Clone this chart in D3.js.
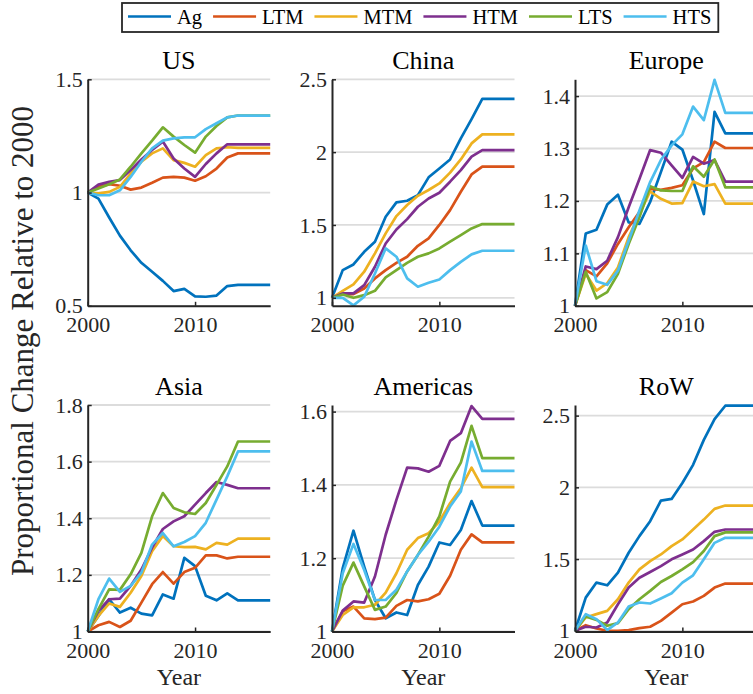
<!DOCTYPE html>
<html>
<head>
<meta charset="utf-8">
<script src="https://cdn.jsdelivr.net/npm/d3@7"></script>
<style>
  html, body { margin: 0; padding: 0; background: #fff; }
  svg { display: block; }
  svg text { font-family: "Liberation Serif", "Times New Roman", serif; }
</style>
</head>
<body>
<svg id="chart" width="753" height="694"></svg>
<script>
// ---- data -------------------------------------------------------------
const years = [2000, 2001, 2002, 2003, 2004, 2005, 2006, 2007, 2008,
               2009, 2010, 2011, 2012, 2013, 2014, 2015, 2016, 2017];
const seriesNames = ["Ag", "LTM", "MTM", "HTM", "LTS", "HTS"];
const regionNames = ["US", "China", "Europe", "Asia", "Americas", "RoW"];
const xTicks = [2000, 2010];

// one row per series, in seriesNames order
const usValues = [
  [1, 0.973, 0.89, 0.81, 0.745, 0.69, 0.65, 0.61, 0.565, 0.575, 0.542, 0.54, 0.545, 0.587, 0.592, 0.592, 0.592, 0.592],
  [1, 1.025, 1.037, 1.03, 1.013, 1.022, 1.043, 1.066, 1.069, 1.066, 1.052, 1.072, 1.106, 1.155, 1.173, 1.173, 1.173, 1.173],
  [1, 0.996, 1.003, 1.025, 1.084, 1.136, 1.173, 1.195, 1.143, 1.131, 1.114, 1.165, 1.195, 1.2, 1.197, 1.197, 1.197, 1.197],
  [1, 1.035, 1.047, 1.055, 1.099, 1.146, 1.188, 1.225, 1.15, 1.106, 1.069, 1.126, 1.173, 1.213, 1.213, 1.213, 1.213, 1.213],
  [1, 1.018, 1.037, 1.058, 1.114, 1.173, 1.229, 1.288, 1.247, 1.21, 1.176, 1.247, 1.294, 1.332, 1.34, 1.34, 1.34, 1.34],
  [1, 0.988, 0.988, 1.01, 1.069, 1.136, 1.195, 1.229, 1.239, 1.244, 1.244, 1.28, 1.306, 1.332, 1.34, 1.34, 1.34, 1.34]
];
const chinaValues = [
  [1, 1.19, 1.229, 1.316, 1.385, 1.556, 1.655, 1.666, 1.705, 1.827, 1.888, 1.95, 2.095, 2.227, 2.365, 2.365, 2.365, 2.365],
  [1, 1.023, 1.025, 1.064, 1.133, 1.19, 1.24, 1.282, 1.357, 1.408, 1.5, 1.602, 1.728, 1.847, 1.9, 1.9, 1.9, 1.9],
  [1, 1.048, 1.092, 1.179, 1.305, 1.442, 1.561, 1.637, 1.7, 1.74, 1.785, 1.859, 1.95, 2.06, 2.122, 2.122, 2.122, 2.122],
  [1, 1.03, 1.03, 1.087, 1.213, 1.373, 1.469, 1.54, 1.625, 1.682, 1.721, 1.797, 1.877, 1.969, 2.014, 2.014, 2.014, 2.014],
  [1, 1.023, 1.0, 1.018, 1.048, 1.14, 1.19, 1.24, 1.282, 1.305, 1.339, 1.385, 1.43, 1.476, 1.506, 1.506, 1.506, 1.506],
  [1, 1.0, 0.948, 1.007, 1.167, 1.339, 1.282, 1.133, 1.076, 1.103, 1.126, 1.19, 1.247, 1.298, 1.323, 1.323, 1.323, 1.323]
];
const europeValues = [
  [1, 1.138, 1.145, 1.193, 1.212, 1.159, 1.156, 1.198, 1.255, 1.313, 1.298, 1.239, 1.175, 1.37, 1.329, 1.329, 1.329, 1.329],
  [1, 1.068, 1.056, 1.081, 1.118, 1.15, 1.179, 1.223, 1.221, 1.225, 1.23, 1.262, 1.274, 1.313, 1.301, 1.301, 1.301, 1.301],
  [1, 1.061, 1.029, 1.043, 1.073, 1.131, 1.175, 1.218, 1.204, 1.195, 1.196, 1.237, 1.228, 1.232, 1.195, 1.195, 1.195, 1.195],
  [1, 1.075, 1.07, 1.086, 1.131, 1.188, 1.242, 1.297, 1.292, 1.268, 1.244, 1.284, 1.271, 1.278, 1.237, 1.237, 1.237, 1.237],
  [1, 1.065, 1.014, 1.026, 1.061, 1.118, 1.169, 1.228, 1.22, 1.219, 1.219, 1.266, 1.246, 1.279, 1.226, 1.226, 1.226, 1.226],
  [1, 1.115, 1.047, 1.04, 1.067, 1.124, 1.182, 1.236, 1.278, 1.306, 1.327, 1.38, 1.354, 1.431, 1.368, 1.368, 1.368, 1.368]
];
const asiaValues = [
  [1, 1.055, 1.114, 1.067, 1.084, 1.063, 1.057, 1.131, 1.116, 1.26, 1.231, 1.126, 1.11, 1.135, 1.11, 1.11, 1.11, 1.11],
  [1, 1.022, 1.034, 1.016, 1.038, 1.102, 1.167, 1.21, 1.169, 1.21, 1.225, 1.269, 1.269, 1.258, 1.264, 1.264, 1.264, 1.264],
  [1, 1.055, 1.099, 1.087, 1.137, 1.196, 1.284, 1.337, 1.301, 1.298, 1.299, 1.29, 1.313, 1.307, 1.328, 1.328, 1.328, 1.328],
  [1, 1.073, 1.114, 1.116, 1.161, 1.219, 1.296, 1.362, 1.389, 1.407, 1.448, 1.489, 1.528, 1.518, 1.506, 1.506, 1.506, 1.506],
  [1, 1.079, 1.149, 1.147, 1.202, 1.278, 1.407, 1.489, 1.436, 1.421, 1.415, 1.454, 1.518, 1.583, 1.671, 1.671, 1.671, 1.671],
  [1, 1.114, 1.187, 1.14, 1.161, 1.208, 1.307, 1.348, 1.301, 1.316, 1.337, 1.384, 1.466, 1.548, 1.636, 1.636, 1.636, 1.636]
];
const americasValues = [
  [1, 1.173, 1.275, 1.177, 1.086, 1.036, 1.052, 1.045, 1.127, 1.177, 1.243, 1.236, 1.277, 1.356, 1.289, 1.289, 1.289, 1.289],
  [1, 1.055, 1.068, 1.036, 1.034, 1.038, 1.07, 1.086, 1.082, 1.088, 1.103, 1.152, 1.223, 1.265, 1.243, 1.243, 1.243, 1.243],
  [1, 1.045, 1.066, 1.066, 1.073, 1.106, 1.159, 1.223, 1.255, 1.268, 1.3, 1.35, 1.391, 1.447, 1.394, 1.394, 1.394, 1.394],
  [1, 1.057, 1.082, 1.079, 1.15, 1.264, 1.359, 1.447, 1.445, 1.436, 1.452, 1.52, 1.541, 1.615, 1.58, 1.58, 1.58, 1.58],
  [1, 1.125, 1.188, 1.123, 1.059, 1.068, 1.105, 1.164, 1.209, 1.259, 1.314, 1.409, 1.461, 1.561, 1.473, 1.473, 1.473, 1.473],
  [1, 1.159, 1.239, 1.168, 1.086, 1.086, 1.114, 1.164, 1.209, 1.245, 1.286, 1.341, 1.382, 1.518, 1.438, 1.438, 1.438, 1.438]
];
const rowValues = [
  [1, 1.231, 1.336, 1.317, 1.405, 1.544, 1.66, 1.764, 1.907, 1.919, 2.03, 2.157, 2.331, 2.475, 2.569, 2.569, 2.569, 2.569],
  [1, 1.039, 1.016, 1.0, 1.0, 1.005, 1.019, 1.028, 1.069, 1.127, 1.185, 1.204, 1.243, 1.301, 1.329, 1.329, 1.329, 1.329],
  [1, 1.093, 1.116, 1.139, 1.22, 1.336, 1.428, 1.486, 1.532, 1.59, 1.637, 1.706, 1.775, 1.85, 1.873, 1.873, 1.873, 1.873],
  [1, 1.028, 1.023, 1.058, 1.185, 1.301, 1.37, 1.41, 1.451, 1.498, 1.532, 1.567, 1.625, 1.69, 1.706, 1.706, 1.706, 1.706],
  [1, 1.1, 1.076, 1.035, 1.053, 1.15, 1.22, 1.278, 1.34, 1.382, 1.428, 1.479, 1.556, 1.66, 1.686, 1.686, 1.686, 1.686],
  [1, 1.116, 1.081, 1.005, 1.058, 1.169, 1.197, 1.19, 1.225, 1.262, 1.336, 1.387, 1.498, 1.613, 1.648, 1.648, 1.648, 1.648]
];
const regionValues = [usValues, chinaValues, europeValues, asiaValues, americasValues, rowValues];

// y-axis limits and tick values per region
const yLimits = [[0.5, 1.5], [0.945, 2.5], [1, 1.432], [1, 1.8], [1, 1.618], [0.995, 2.574]];
const yTickValues = [
  [0.5, 1, 1.5],
  [1, 1.5, 2, 2.5],
  [1, 1.1, 1.2, 1.3, 1.4],
  [1, 1.2, 1.4, 1.6, 1.8],
  [1, 1.2, 1.4, 1.6],
  [1, 1.5, 2, 2.5]
];

// ---- styling / layout -------------------------------------------------
const colors = ["#0072BD", "#D95319", "#EDB120", "#7E2F8E", "#77AC30", "#4DBEEE"];
const axisColor = "#262626";
const gridColor = "#dcdcdc";
const serif = '"Liberation Serif", "Times New Roman", serif';
const colLeft = [87.7, 332, 575];
const rowTop = [79.3, 405];
const plotW = 182.5, plotH = 226.5;

const svg = d3.select("#chart");
const fmt = d3.format("~g");

regionNames.forEach((name, i) => {
  const col = i % 3, row = Math.floor(i / 3);
  const x0 = colLeft[col], y0 = rowTop[row];
  const x = d3.scaleLinear().domain([2000, 2017]).range([x0, x0 + plotW]);
  const y = d3.scaleLinear().domain(yLimits[i]).range([y0 + plotH, y0]);
  const g = svg.append("g");

  // horizontal grid
  g.append("g").selectAll("line").data(yTickValues[i]).join("line")
    .attr("x1", x0).attr("x2", x0 + plotW)
    .attr("y1", d => y(d)).attr("y2", d => y(d))
    .attr("stroke", gridColor).attr("stroke-width", 1.8);

  // series lines
  const line = d3.line().x((d, k) => x(years[k])).y(d => y(d));
  g.append("g").selectAll("path").data(regionValues[i]).join("path")
    .attr("d", line)
    .attr("fill", "none")
    .attr("stroke", (d, k) => colors[k])
    .attr("stroke-width", 2.7)
    .attr("stroke-linejoin", "round");

  // y axis (ticks inward)
  const yAxis = d3.axisLeft(y).tickValues(yTickValues[i]).tickFormat(fmt)
    .tickSizeInner(-4).tickSizeOuter(0).tickPadding(5);
  const ya = g.append("g").attr("transform", `translate(${x0},0)`).call(yAxis);
  ya.attr("font-family", null).attr("font-size", null);
  ya.select(".domain").attr("stroke", axisColor).attr("stroke-width", 2);
  ya.selectAll(".tick line").attr("stroke", axisColor).attr("stroke-width", 1.5);
  ya.selectAll(".tick text").attr("fill", axisColor)
    .style("font-family", serif).style("font-size", "22px");

  // x axis (ticks inward)
  const xAxis = d3.axisBottom(x).tickValues(xTicks).tickFormat(d3.format("d"))
    .tickSizeInner(-4).tickSizeOuter(0).tickPadding(11);
  const xa = g.append("g").attr("transform", `translate(0,${y0 + plotH})`).call(xAxis);
  xa.attr("font-family", null).attr("font-size", null);
  xa.select(".domain").attr("stroke", axisColor).attr("stroke-width", 2);
  xa.selectAll(".tick line").attr("stroke", axisColor).attr("stroke-width", 1.5);
  xa.selectAll(".tick text").attr("fill", axisColor)
    .style("font-family", serif).style("font-size", "22px");

  // panel title
  g.append("text").attr("x", x0 + plotW / 2).attr("y", y0 - 10)
    .attr("text-anchor", "middle").attr("fill", "#000")
    .style("font-family", serif).style("font-size", "26px")
    .text(name);

  // x label on the bottom row
  if (row === 1) {
    g.append("text").attr("x", x0 + plotW / 2).attr("y", y0 + plotH + 53)
      .attr("text-anchor", "middle").attr("fill", axisColor)
      .style("font-family", serif).style("font-size", "24px")
      .text("Year");
  }
});

// shared y label
svg.append("text")
  .attr("transform", "translate(33,341) rotate(-90)")
  .attr("text-anchor", "middle").attr("fill", axisColor)
  .style("font-family", serif).style("font-size", "31px")
  .text("Proportional Change Relative to 2000");

// legend
const legend = svg.append("g");
const legendBox = legend.append("rect")
  .attr("x", 122).attr("y", 3).attr("height", 29)
  .attr("fill", "#fff").attr("stroke", axisColor).attr("stroke-width", 1.8);
let lx = 128;
seriesNames.forEach((s, k) => {
  legend.append("line").attr("x1", lx).attr("x2", lx + 43)
    .attr("y1", 16.5).attr("y2", 16.5)
    .attr("stroke", colors[k]).attr("stroke-width", 2.7);
  const t = legend.append("text").attr("x", lx + 49).attr("y", 24)
    .attr("fill", "#000")
    .style("font-family", serif).style("font-size", "20.5px")
    .text(s);
  lx += 49 + t.node().getComputedTextLength() + 11;
});
legendBox.attr("width", lx - 122 - 4);
</script>
</body>
</html>
